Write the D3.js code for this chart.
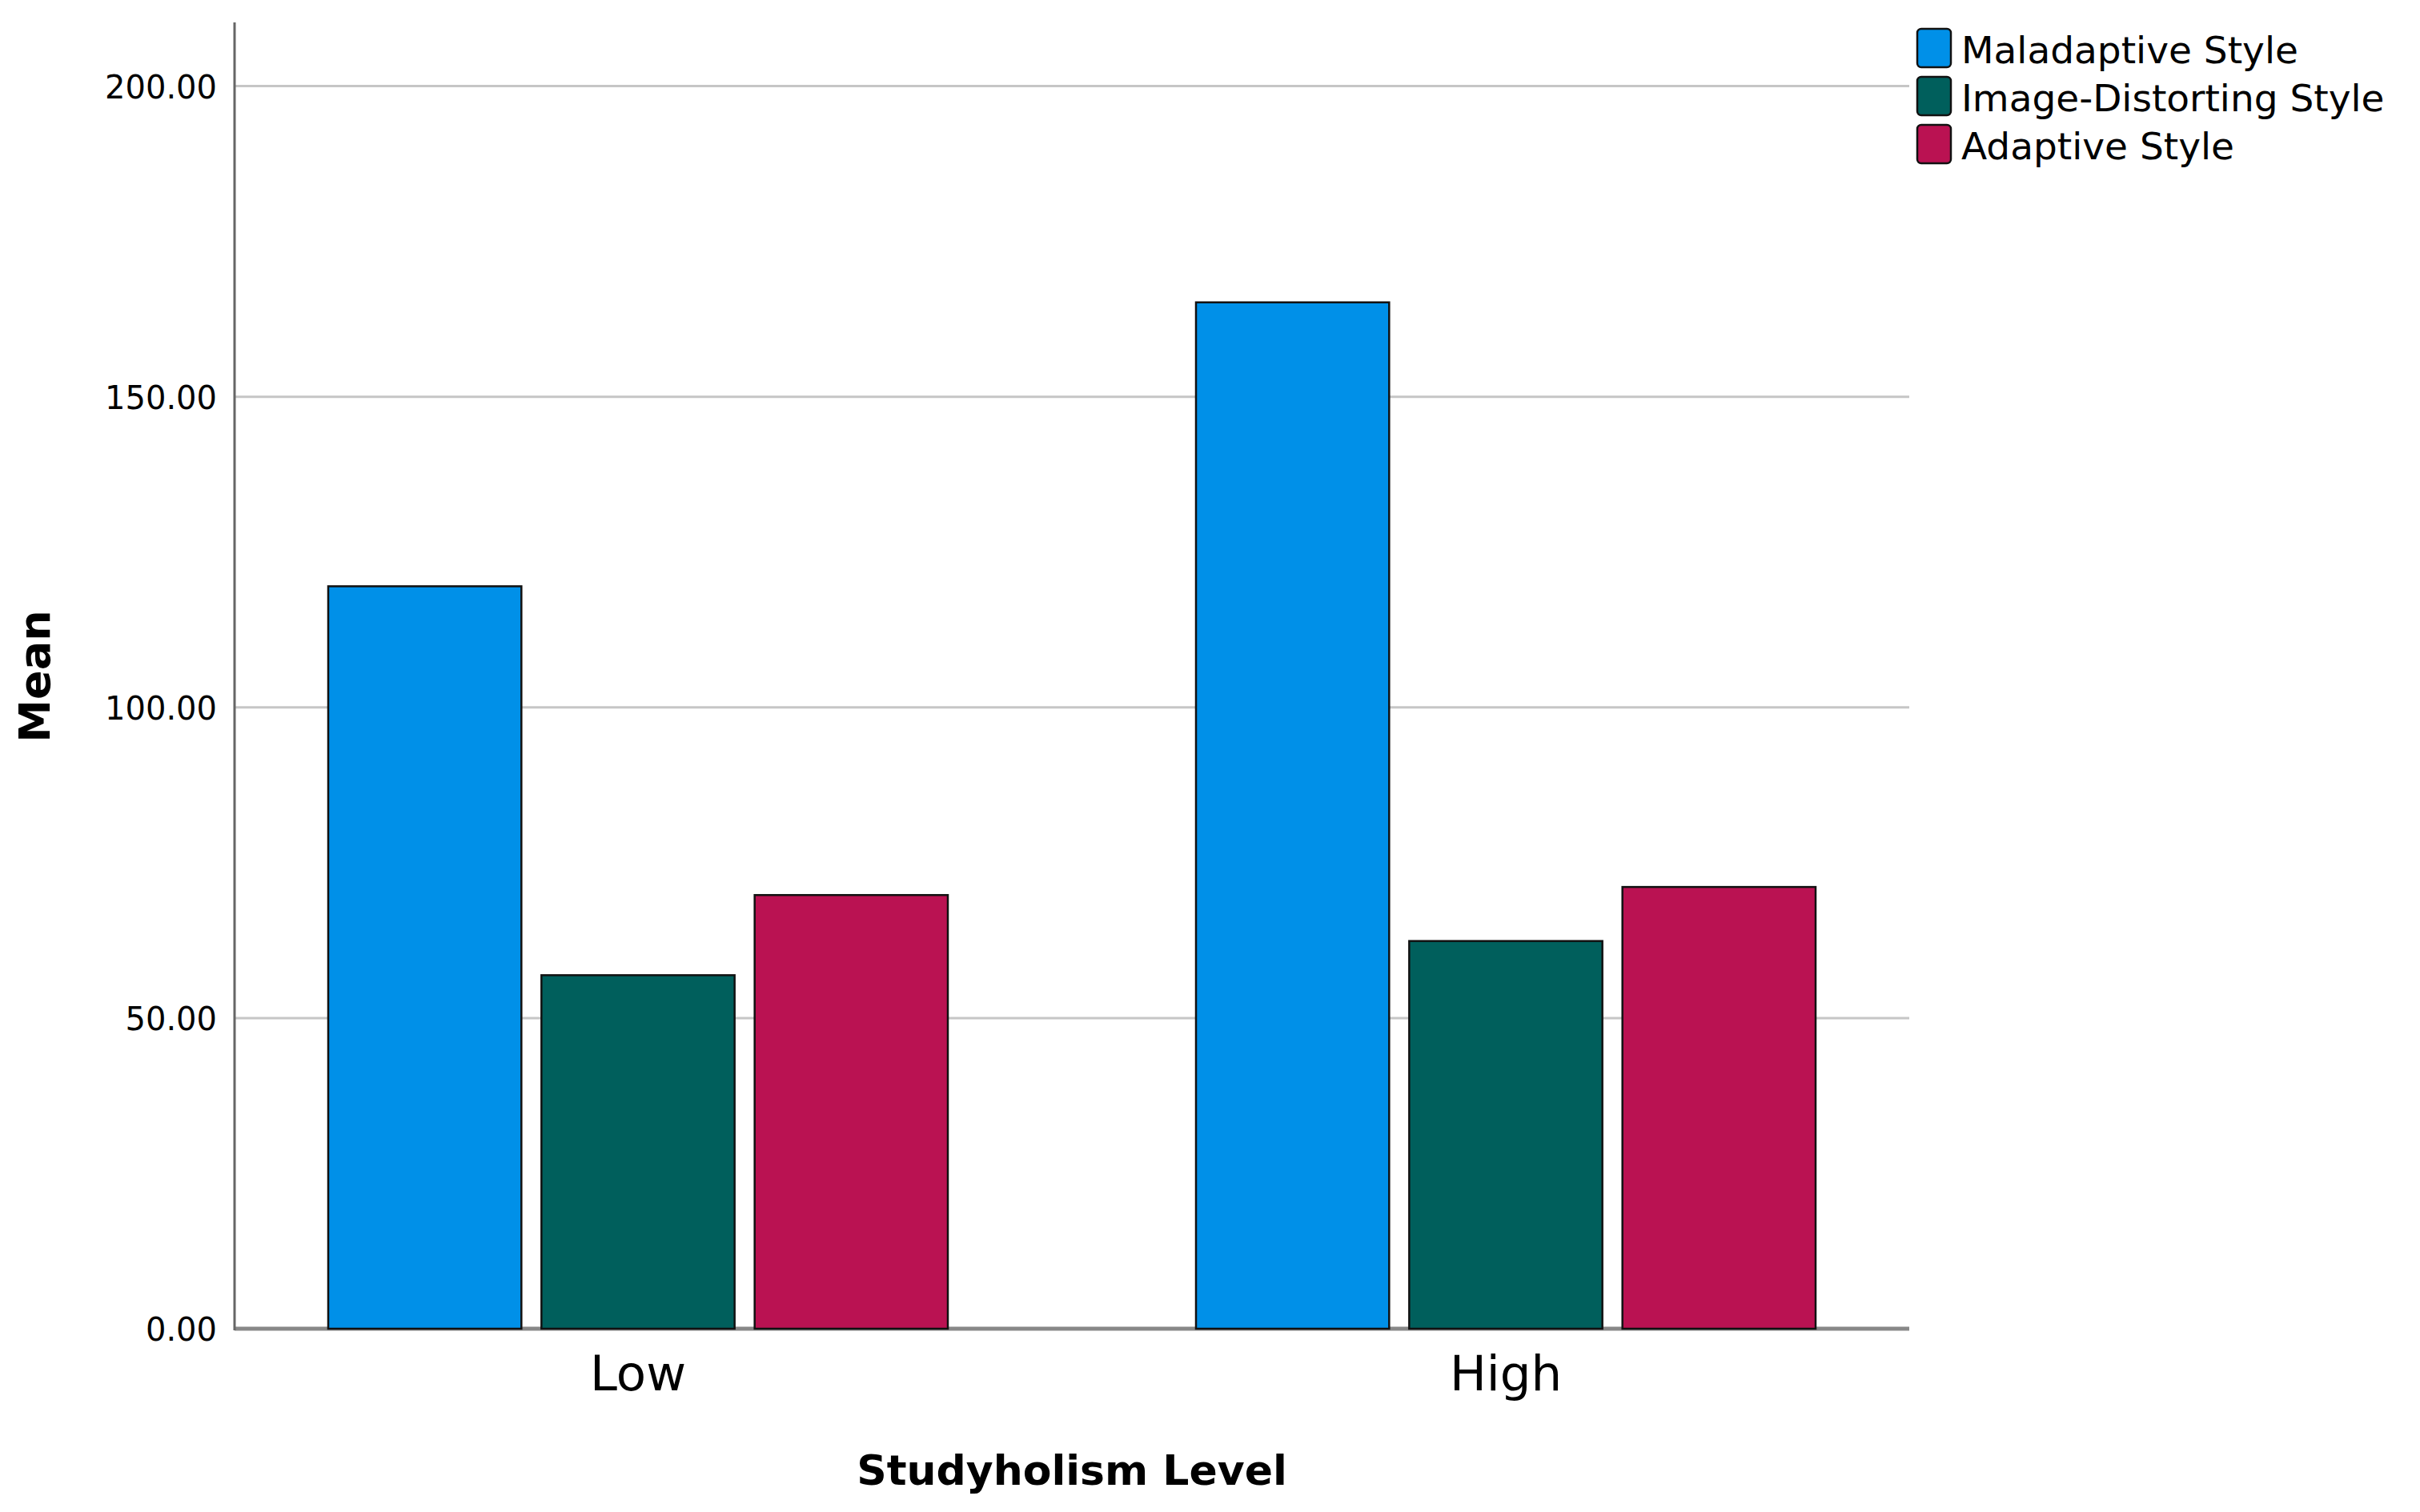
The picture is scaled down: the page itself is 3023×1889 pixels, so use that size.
<!DOCTYPE html>
<html>
<head>
<meta charset="utf-8">
<script src="https://cdn.jsdelivr.net/npm/d3@7"></script>
<style>
  html, body { margin: 0; padding: 0; background: #fff; }
  svg { display: block; }
  text { font-family: "DejaVu Sans", sans-serif; fill: #000; }
</style>
</head>
<body>
<svg id="chart"></svg>
<script>
// chart data
const categories = ['Low', 'High'];
const series     = ['Maladaptive Style', 'Image-Distorting Style', 'Adaptive Style'];
const colors     = ['#0090E8', '#005F5C', '#BA1252'];
const maladaptive     = [119.5, 165.2];
const imageDistorting = [56.9, 62.4];
const adaptive        = [69.8, 71.1];
const yTicks = [0, 50, 100, 150, 200];

const values = [maladaptive, imageDistorting, adaptive];

const width  = 3023;
const height = 1889;

const svg = d3.select('#chart')
    .attr('width', width)
    .attr('height', height);

// plot frame
const plotLeft   = 293;
const plotRight  = 2385;
const plotTop    = 30;
const plotBottom = 1660;

const y = d3.scaleLinear()
    .domain([0, 210])
    .range([plotBottom, plotTop]);

// outer band per studyholism level
const x0 = d3.scaleBand()
    .domain(categories)
    .range([255, 2423]);

// inner band per style
const x1 = d3.scaleBand()
    .domain(series)
    .range([155, x0.bandwidth() - 155])
    .paddingInner(0.094);

// gridlines
svg.append('g')
    .attr('id', 'grid')
  .selectAll('line')
    .data(yTicks.filter((d) => d > 0))
  .enter()
  .append('line')
    .attr('x1', plotLeft)
    .attr('x2', plotRight)
    .attr('y1', (d) => y(d))
    .attr('y2', (d) => y(d))
    .attr('stroke', '#c6c6c6')
    .attr('stroke-width', 3);

// baseline
svg.append('line')
    .attr('x1', plotLeft)
    .attr('x2', plotRight)
    .attr('y1', plotBottom)
    .attr('y2', plotBottom)
    .attr('stroke', '#888')
    .attr('stroke-width', 5);

// bars
const groups = svg.append('g')
    .attr('id', 'bars')
  .selectAll('g')
    .data(categories)
  .enter()
  .append('g')
    .attr('transform', (d) => `translate(${x0(d)}, 0)`);

groups.selectAll('rect')
    .data((c, ci) => series.map((s, si) => ({ s, si, v: values[si][ci] })))
  .enter()
  .append('rect')
    .attr('x', ({ s }) => x1(s))
    .attr('width', x1.bandwidth())
    .attr('y', ({ v }) => y(v))
    .attr('height', ({ v }) => y(0) - y(v))
    .attr('fill', ({ si }) => colors[si])
    .attr('stroke', '#111')
    .attr('stroke-width', 2.5);

// y axis
const yAxis = svg.append('g')
    .attr('transform', `translate(${plotLeft}, 0)`)
    .call(d3.axisLeft(y)
      .tickValues(yTicks)
      .tickFormat(d3.format('.2f'))
      .tickSize(0)
      .tickPadding(22));

yAxis.select('.domain').remove();
yAxis.selectAll('text')
    .style('font-size', '40px')
    .attr('dy', '0.36em');

svg.append('line')
    .attr('x1', plotLeft)
    .attr('x2', plotLeft)
    .attr('y1', plotTop - 2)
    .attr('y2', plotBottom + 2)
    .attr('stroke', '#666')
    .attr('stroke-width', 3);

// x axis
const xAxis = svg.append('g')
    .attr('transform', `translate(0, ${plotBottom})`)
    .call(d3.axisBottom(x0).tickSize(0).tickPadding(34));

xAxis.select('.domain').remove();
xAxis.selectAll('text')
    .style('font-size', '61px');

// axis titles
svg.append('text')
    .attr('x', (plotLeft + plotRight) / 2)
    .attr('y', 1855)
    .attr('text-anchor', 'middle')
    .style('font-size', '52px')
    .style('font-weight', 'bold')
    .text('Studyholism Level');

svg.append('text')
    .attr('transform', `translate(62, ${(plotTop + plotBottom) / 2}) rotate(-90)`)
    .attr('text-anchor', 'middle')
    .style('font-size', '54px')
    .style('font-weight', 'bold')
    .text('Mean');

// legend
const legend = svg.append('g')
    .attr('id', 'legend')
  .selectAll('g')
    .data(series)
  .enter()
  .append('g')
    .attr('transform', (d, i) => `translate(2395, ${36 + i * 60})`);

legend.append('rect')
    .attr('width', 42)
    .attr('height', 48)
    .attr('rx', 5)
    .attr('ry', 5)
    .attr('fill', (d, i) => colors[i])
    .attr('stroke', '#111')
    .attr('stroke-width', 2.5);

legend.append('text')
    .attr('x', 55)
    .attr('y', 26)
    .attr('dy', '0.36em')
    .style('font-size', '47px')
    .text((d) => d);
</script>
</body>
</html>
